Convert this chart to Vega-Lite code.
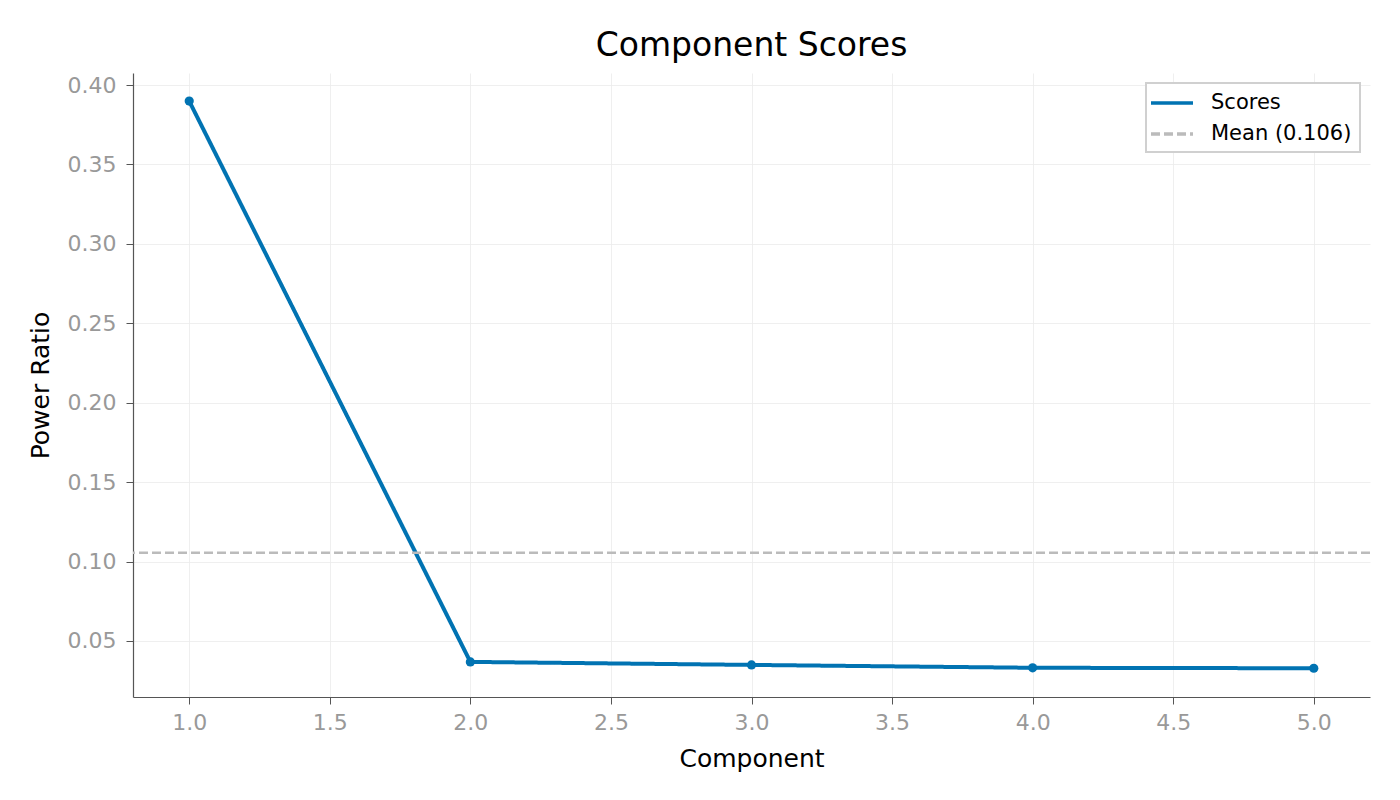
{
  "$schema": "https://vega.github.io/schema/vega-lite/v6.json",
  "autosize": {"type": "none"},
  "padding": {"left": 133, "top": 73, "right": 30, "bottom": 103},
  "width": 1237,
  "height": 624,
  "title": {
    "text": "Component Scores",
    "font": "DejaVu Sans",
    "fontSize": 33,
    "fontWeight": "normal",
    "color": "black",
    "offset": 10
  },
  "datasets": {
    "scores": [
      {"component": 1, "ratio": 0.3899, "series": "Scores"},
      {"component": 2, "ratio": 0.0368, "series": "Scores"},
      {"component": 3, "ratio": 0.0349, "series": "Scores"},
      {"component": 4, "ratio": 0.0331, "series": "Scores"},
      {"component": 5, "ratio": 0.0328, "series": "Scores"}
    ],
    "mean": [
      {"ratio": 0.1055, "series": "Mean (0.106)"}
    ]
  },
  "layer": [
    {
      "data": {"name": "scores"},
      "mark": {
        "type": "line",
        "strokeWidth": 4,
        "point": {"filled": true, "size": 85}
      },
      "encoding": {
        "x": {
          "field": "component",
          "type": "quantitative",
          "title": "Component",
          "scale": {"domain": [0.8, 5.2], "nice": false, "zero": false},
          "axis": {"values": [1, 1.5, 2, 2.5, 3, 3.5, 4, 4.5, 5], "format": ".1f"}
        },
        "y": {"field": "ratio", "type": "quantitative"},
        "color": {"field": "series", "type": "nominal"},
        "strokeDash": {"field": "series", "type": "nominal"}
      }
    },
    {
      "data": {"name": "mean"},
      "mark": {"type": "rule", "strokeWidth": 2.4},
      "encoding": {
        "y": {"field": "ratio", "type": "quantitative"},
        "color": {"field": "series", "type": "nominal"},
        "strokeDash": {"field": "series", "type": "nominal"}
      }
    }
  ],
  "encoding": {
    "y": {
      "field": "ratio",
      "type": "quantitative",
      "title": "Power Ratio",
      "scale": {"domain": [0.0147, 0.4076], "nice": false, "zero": false},
      "axis": {"values": [0.05, 0.1, 0.15, 0.2, 0.25, 0.3, 0.35, 0.4], "format": ".2f"}
    },
    "color": {
      "field": "series",
      "type": "nominal",
      "scale": {"domain": ["Scores", "Mean (0.106)"], "range": ["#0173b2", "#bbbbbb"]},
      "legend": {"title": null}
    },
    "strokeDash": {
      "field": "series",
      "type": "nominal",
      "scale": {"domain": ["Scores", "Mean (0.106)"], "range": [[1, 0], [9, 4]]},
      "legend": {"title": null}
    }
  },
  "config": {
    "font": "DejaVu Sans",
    "view": {"stroke": null},
    "axis": {
      "domainColor": "#555555",
      "domainWidth": 1.2,
      "tickColor": "#555555",
      "tickSize": 7,
      "labelColor": "#999999",
      "labelFont": "DejaVu Sans",
      "labelFontSize": 22,
      "labelPadding": 10,
      "titleColor": "black",
      "titleFont": "DejaVu Sans",
      "titleFontSize": 25,
      "titleFontWeight": "normal",
      "gridColor": "#ebebeb",
      "gridWidth": 0.8
    },
    "axisX": {"titlePadding": 13, "labelPadding": 8},
    "axisY": {"titlePadding": 14},
    "legend": {
      "orient": "top-right",
      "offset": 10,
      "strokeColor": "#d0d0d0",
      "strokeWidth": 2,
      "fillColor": "white",
      "padding": 8,
      "cornerRadius": 0,
      "labelFont": "DejaVu Sans",
      "labelFontSize": 21,
      "labelColor": "black",
      "labelOffset": 33,
      "symbolType": "M-1.5,0H2.7",
      "symbolSize": 400,
      "symbolStrokeWidth": 3.5,
      "rowPadding": 9
    }
  }
}
